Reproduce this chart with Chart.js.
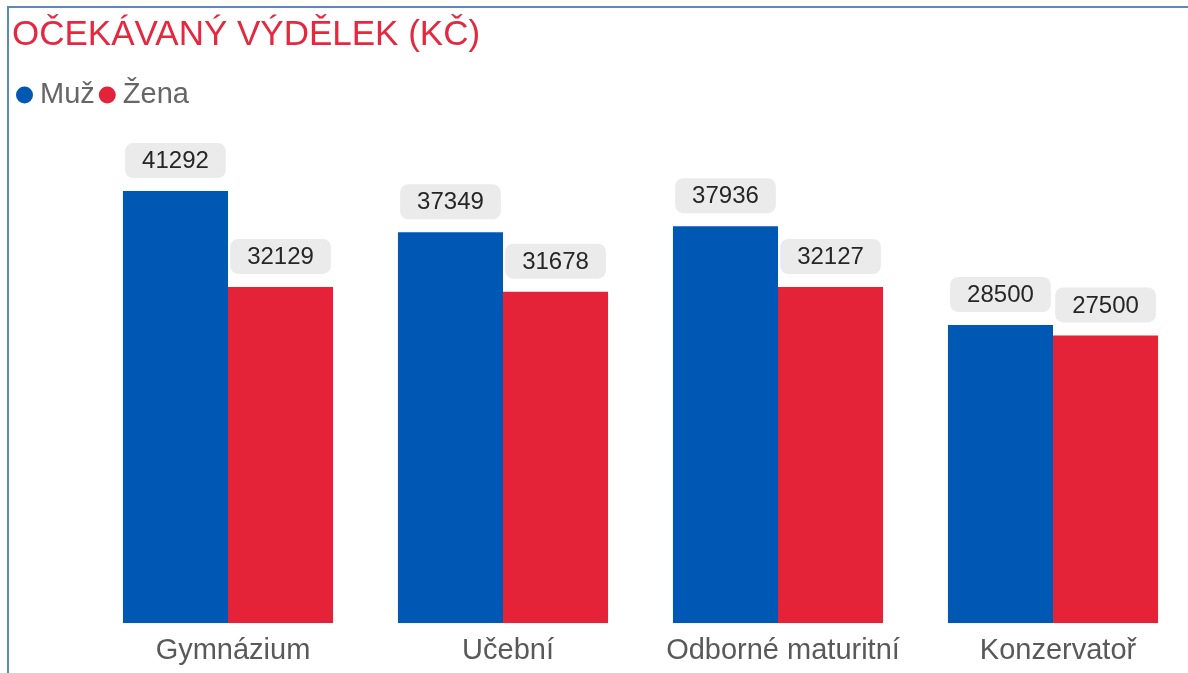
<!DOCTYPE html>
<html>
<head>
<meta charset="utf-8">
<script src="https://cdn.jsdelivr.net/npm/chart.js@4.4.1/dist/chart.umd.min.js"></script>
<style>
    html, body { margin: 0; padding: 0; background: #fff; overflow: hidden; }
    #wrap { position: relative; width: 1188px; height: 673px; overflow: hidden; }
    #chart { position: absolute; left: 0; top: 0; }
    #frame {
        position: absolute; left: 7px; top: 6px; width: 1200px; height: 700px;
        border-top: 2px solid #5b88c2; border-left: 2px solid #5b88c2;
        pointer-events: none;
    }
</style>
</head>
<body>
<div id="wrap">
    <canvas id="chart" width="1200" height="673" style="width:1200px;height:673px"></canvas>
    <div id="frame"></div>
</div>
<script>
var categories = ['Gymnázium', 'Učební', 'Odborné maturitní', 'Konzervatoř']
var muz = [41292, 37349, 37936, 28500]
var zena = [32129, 31678, 32127, 27500]

var FONT = '"Liberation Sans", Arial, sans-serif'

// grey rounded boxes with the value above each bar
var valueBoxes = {
    id: 'valueBoxes',
    afterDatasetsDraw(chart) {
        var ctx = chart.ctx
        ctx.save()
        ctx.font = '24px ' + FONT
        ctx.textAlign = 'center'
        ctx.textBaseline = 'middle'
        chart.data.datasets.forEach((ds, di) => {
            var meta = chart.getDatasetMeta(di)
            meta.data.forEach((bar, i) => {
                var txt = String(ds.data[i])
                var w = ctx.measureText(txt).width + 34
                var h = 35
                var bx = bar.x - w / 2
                var by = bar.y - 13 - h
                ctx.fillStyle = '#ebebeb'
                ctx.beginPath()
                ctx.roundRect(bx, by, w, h, 8)
                ctx.fill()
                ctx.fillStyle = '#262626'
                ctx.fillText(txt, bar.x, by + h / 2 + 1)
            })
        })
        ctx.restore()
    }
}

var ctx = document.getElementById('chart').getContext('2d')
var myChart = new Chart(ctx, {
    type: 'bar',
    data: {
        labels: categories,
        datasets: [{
            label: 'Muž',
            data: muz,
            backgroundColor: '#0058b5',
            categoryPercentage: 0.764,
            barPercentage: 1
        }, {
            label: 'Žena',
            data: zena,
            backgroundColor: '#e42339',
            categoryPercentage: 0.764,
            barPercentage: 1
        }]
    },
    options: {
        responsive: false,
        animation: false,
        layout: { padding: { left: 12, right: 9.5, top: 8, bottom: -5 } },
        plugins: {
            title: {
                display: true,
                text: 'OČEKÁVANÝ VÝDĚLEK (KČ)',
                align: 'start',
                color: '#e5283f',
                font: { family: FONT, size: 35, weight: 'normal' },
                padding: { top: 6, bottom: 13 }
            },
            legend: {
                align: 'start',
                labels: {
                    usePointStyle: true,
                    pointStyle: 'circle',
                    boxWidth: 2,
                    boxHeight: 12,
                    padding: 11.5,
                    color: '#666666',
                    font: { family: FONT, size: 29 }
                }
            },
            tooltip: { enabled: false }
        },
        scales: {
            x: {
                grid: { display: false, drawTicks: false },
                border: { display: false },
                ticks: {
                    color: '#595959',
                    padding: 10,
                    labelOffset: 5,
                    font: { family: FONT, size: 29 }
                }
            },
            y: {
                min: 0,
                max: 48130,
                grid: { display: false, drawTicks: false },
                border: { display: false },
                ticks: { display: false },
                afterFit: (scale) => { scale.width = 78.5 }
            }
        }
    },
    plugins: [valueBoxes]
})
</script>
</body>
</html>
